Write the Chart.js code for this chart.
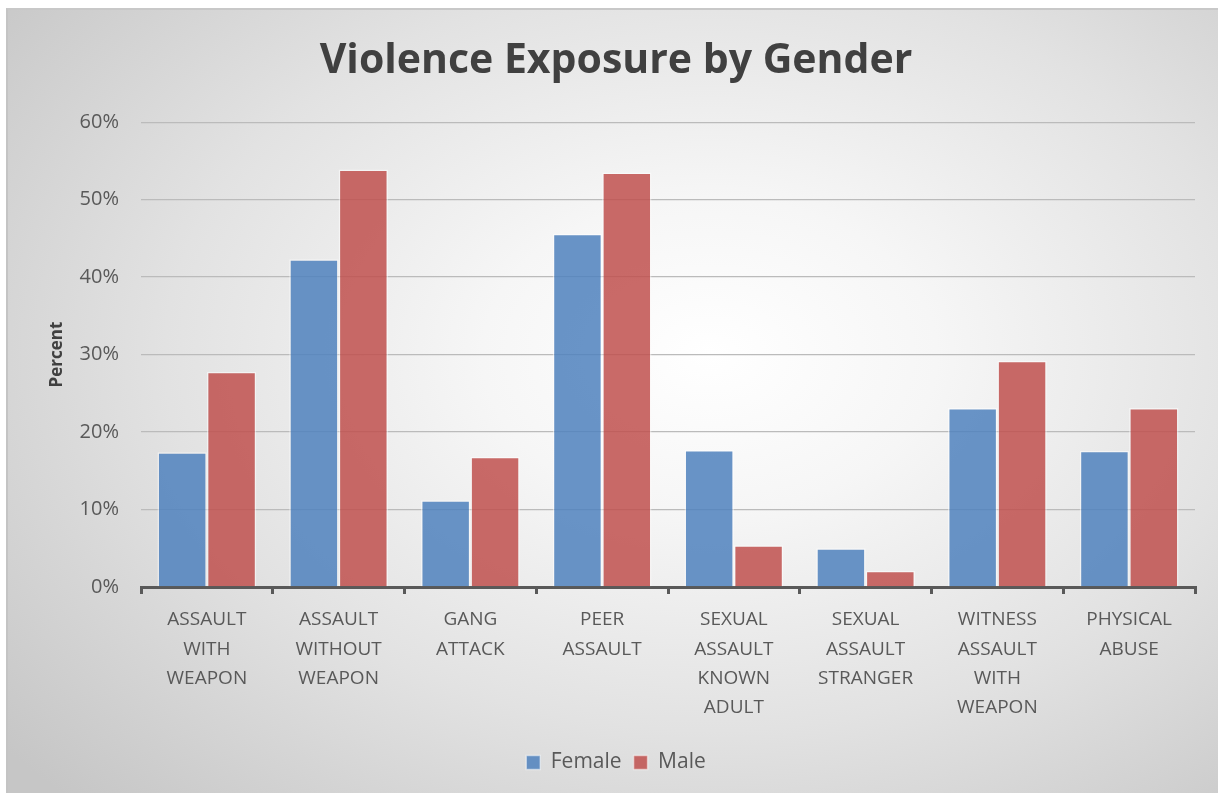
<!DOCTYPE html>
<html>
<head>
<meta charset="utf-8">
<title>Violence Exposure by Gender</title>
<script src="https://cdn.jsdelivr.net/npm/chart.js@4.4.1/dist/chart.umd.min.js"></script>
<style>
  html, body { margin: 0; padding: 0; background: #ffffff; }
  #frame {
    position: absolute;
    left: 6px; top: 8px;
    width: 1212px; height: 785px;
    box-sizing: border-box;
    border-left: 2px solid #c4c4c4;
    border-top: 2px solid #c8c8c8;
    background: radial-gradient(ellipse 75% 80% at 58% 44%, #ffffff 0%, #f6f6f6 25%, #e2e2e2 60%, #c6c6c6 100%);
  }
  #chart { display: block; }
</style>
</head>
<body>
<div id="frame"><canvas id="chart" width="1210" height="783"></canvas></div>
<script>
// Exposure categories (multi-line axis labels)
const categories = [
  ['ASSAULT', 'WITH', 'WEAPON'],
  ['ASSAULT', 'WITHOUT', 'WEAPON'],
  ['GANG', 'ATTACK'],
  ['PEER', 'ASSAULT'],
  ['SEXUAL', 'ASSAULT', 'KNOWN', 'ADULT'],
  ['SEXUAL', 'ASSAULT', 'STRANGER'],
  ['WITNESS', 'ASSAULT', 'WITH', 'WEAPON'],
  ['PHYSICAL', 'ABUSE']
];

// Percent of respondents exposed
const femaleValues = [17.4, 42.3, 11.2, 45.6, 17.7, 5.0, 23.1, 17.6];
const maleValues   = [27.8, 53.9, 16.8, 53.5, 5.4, 2.1, 29.2, 23.1];

// Percent axis ticks
const yTicks = [0, 10, 20, 30, 40, 50, 60];

const FONT = '"Open Sans", "DejaVu Sans", sans-serif';
const TEXT = '#595959';

new Chart(document.getElementById('chart'), {
  type: 'bar',
  data: {
    labels: categories,
    datasets: [
      {
        label: 'Female',
        data: femaleValues,
        backgroundColor: 'rgba(79,129,189,0.85)',
        borderColor: 'rgba(255,255,255,0.5)',
        borderWidth: 1.5
      },
      {
        label: 'Male',
        data: maleValues,
        backgroundColor: 'rgba(192,80,77,0.85)',
        borderColor: 'rgba(255,255,255,0.5)',
        borderWidth: 1.5
      }
    ]
  },
  options: {
    responsive: false,
    devicePixelRatio: 1,
    animation: false,
    datasets: { bar: { categoryPercentage: 0.75, barPercentage: 1.0 } },
    layout: { padding: { left: 29, right: 23, top: 0, bottom: 10 } },
    plugins: {
      title: {
        display: true,
        text: 'Violence Exposure by Gender',
        color: '#404040',
        font: { family: FONT, size: 41, weight: 'bold', lineHeight: 1.2 },
        padding: { top: 27, bottom: 36 }
      },
      legend: {
        position: 'bottom',
        labels: {
          color: TEXT,
          font: { family: FONT, size: 21 },
          boxWidth: 14,
          boxHeight: 14,
          padding: 12
        }
      },
      tooltip: { enabled: false }
    },
    scales: {
      x: {
        grid: {
          display: true,
          drawOnChartArea: false,
          drawTicks: true,
          tickLength: 7,
          color: '#595959',
          lineWidth: 3
        },
        border: { display: true, color: '#595959', width: 3 },
        ticks: {
          color: TEXT,
          font: { family: FONT, size: 19, lineHeight: 1.55 },
          padding: 11,
          maxRotation: 0,
          autoSkip: false
        },
        afterFit: (scale) => { scale.height = 153; }
      },
      y: {
        min: 0,
        max: 60,
        afterBuildTicks: (scale) => { scale.ticks = yTicks.map(v => ({ value: v })); },
        grid: { color: '#bbbbbb', lineWidth: 1.3, drawTicks: false },
        border: { display: false },
        ticks: {
          color: TEXT,
          font: { family: FONT, size: 20 },
          padding: 22,
          callback: (v) => v + '%'
        },
        title: {
          display: true,
          text: 'Percent',
          color: '#404040',
          font: { family: FONT, size: 17, weight: 'bold', lineHeight: 1.2 },
          padding: { top: 10, bottom: 0 }
        },
        afterFit: (scale) => { scale.width = 104; }
      }
    }
  }
});
</script>
</body>
</html>
